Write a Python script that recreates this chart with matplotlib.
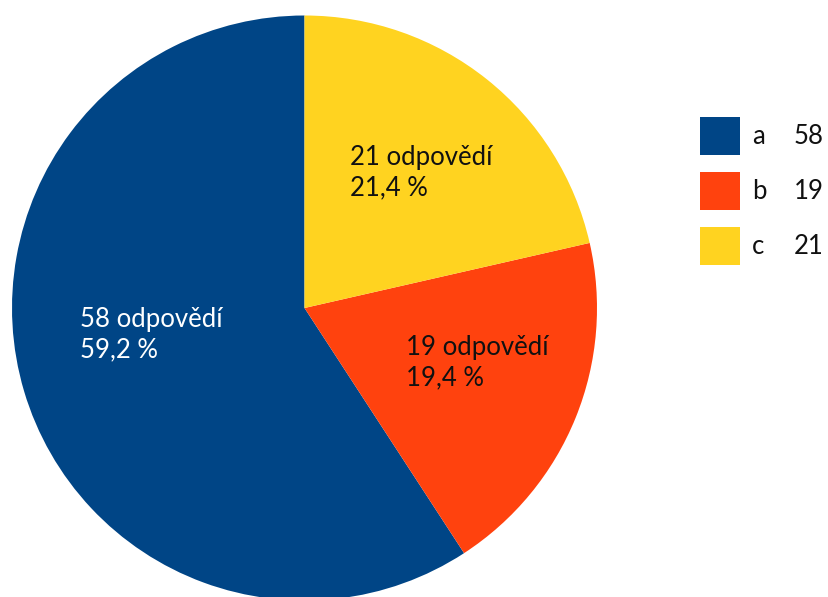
import matplotlib
matplotlib.use("Agg")
import matplotlib.pyplot as plt
from matplotlib.patches import Rectangle

plt.rcParams['font.family'] = ['Lato', 'DejaVu Sans']

categories = ["a", "b", "c"]
counts = [58, 19, 21]
colors = ["#004586", "#ff420e", "#ffd320"]
text_colors = ["white", "#111111", "#111111"]

# label anchors (left edge, vertical centre), in pixels of the 829x597 canvas
label_pos = [(80, 262), (406, 234), (350, 424)]

fig = plt.figure(figsize=(8.29, 5.97), dpi=100)
ax = fig.add_axes([0, 0, 1, 1])

total = sum(counts)
cx, cy, r = 304.5, 289, 292.5
ax.pie(counts, colors=colors, startangle=90, counterclock=True,
       center=(cx, cy), radius=r, frame=True,
       wedgeprops=dict(linewidth=0))
ax.set_xlim(0, 829)
ax.set_ylim(0, 597)
ax.axis("off")

for v, (x, y), tc in zip(counts, label_pos, text_colors):
    pct = f"{v / total * 100:.1f}".replace(".", ",")
    ax.text(x, y, f"{v} odpovědí\n{pct} %", color=tc, fontsize=18.5,
            ha="left", va="center", linespacing=1.25)

# legend
for i, (cat, v, c) in enumerate(zip(categories, counts, colors)):
    top = 597 - 117 - i * 55
    ax.add_patch(Rectangle((700, top - 38), 40, 38, color=c, lw=0))
    ax.text(752, top - 20, cat, fontsize=18.5, ha="left", va="center", color="#111111")
    ax.text(794, top - 20, str(v), fontsize=18.5, ha="left", va="center", color="#111111")

fig.savefig("out.png", dpi=100)
